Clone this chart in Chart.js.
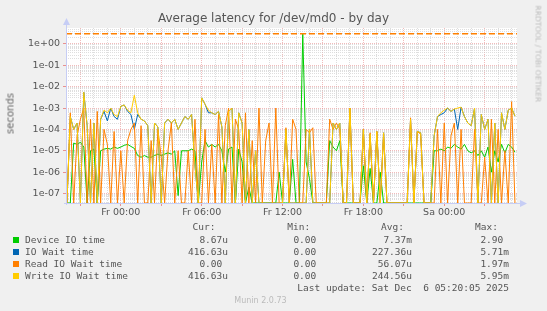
<!DOCTYPE html>
<html>
<head>
<meta charset="utf-8">
<script src="https://cdn.jsdelivr.net/npm/chart.js@4.4.0/dist/chart.umd.min.js"></script>
<style>
  body { margin: 0; background: #f0f0f0; }
  #wrap { position: relative; width: 547px; height: 311px; overflow: hidden; }
  #chart { position: absolute; left: 0; top: 0; }
  .txt { position: absolute; white-space: pre; color: #555; font-family: "DejaVu Sans", sans-serif; }
  .mono { font-family: "DejaVu Sans Mono", monospace; font-size: 9.5px; line-height: 10px; color: #555; }
  .sq { position: absolute; width: 6px; height: 6px; }
</style>
</head>
<body>
<div id="wrap">
  <canvas id="chart" width="547" height="311"></canvas>
  <div class="txt" id="title" style="left:0;width:547px;text-align:center;top:11px;font-size:12px;">Average latency for /dev/md0 - by day</div>
  <div class="txt" style="left:-15px;top:108px;width:50px;text-align:center;font-size:10px;font-weight:normal;color:#666;transform:rotate(-90deg);">seconds</div>
  <div class="txt" style="left:490px;top:49px;width:96px;text-align:center;font-size:7.5px;color:#bbb;transform:rotate(90deg);">RRDTOOL / TOBI OETIKER</div>
  <div id="legend"></div>
  <div class="txt" style="left:0;width:521px;text-align:center;top:296px;font-size:8px;color:#bbb;">Munin 2.0.73</div>
</div>
<script>
// sample schedule: hours relative to Fr 00:00, one value every 15 minutes
const startHour = -4;
const stepHours = 0.25;

// x axis range and labels
const xMinHour = -4.07;
const xMaxHour = 29.4;
const xLabelHours = [0, 6, 12, 18, 24];
const xLabelTexts = ["Fr 00:00", "Fr 06:00", "Fr 12:00", "Fr 18:00", "Sa 00:00"];

// y axis (log)
const yMin = 3.6e-8;
const yMax = 5.6;
const yTickValues = [1e-7, 1e-6, 1e-5, 1e-4, 1e-3, 1e-2, 1e-1, 1];
const yTickLabels = ["1e-07", "1e-06", "1e-05", "1e-04", "1e-03", "1e-02", "1e-01", "1e+00"];

const warningLevel = 3;

// Device IO time
const deviceIO = [
  0, 0, 2.3e-5, 2e-5,
  2.5e-5, 1.5e-5, 0, 1e-5,
  1.2e-5, 0, 1e-5, 1.2e-5,
  1.3e-5, 1.2e-5, 1.5e-5, 1.3e-5,
  1.5e-5, 1.8e-5, 2e-5, 1.6e-5,
  1.3e-5, 6e-6, 5e-6, 6e-6,
  5e-6, 5e-6, 6e-6, 7e-6,
  6e-6, 7e-6, 8e-6, 7e-6,
  1e-5, 8e-8, 1e-5, 1e-5,
  1e-5, 1.2e-5, 1e-5, 0,
  3e-6, 3e-5, 1.5e-5, 2e-5,
  1.5e-5, 2e-5, 1e-5, 1e-6,
  1.2e-5, 1.5e-5, 0, 1.2e-5,
  3e-6, 0, 2e-7, 0,
  0, 0, 0, 0,
  0, 0, 0, 1e-6,
  0, 0, 0, 4e-6,
  0, 0, 2.9, 3e-6,
  5e-7, 0, 0, 0,
  0, 0, 3e-5, 1.5e-5,
  1e-5, 3e-5, 0, 0,
  0, 0, 0, 0,
  2e-6, 0, 1.5e-6, 0,
  0, 1e-6, 0, 0,
  0, 0, 0, 0,
  0, 0, 0, 0,
  0, 0, 0, 0,
  0, 1e-5, 1e-5, 1.2e-5,
  1e-5, 1.5e-5, 1.3e-5, 2e-5,
  1.5e-5, 1.2e-5, 2e-5, 1e-5,
  8e-6, 1e-5, 6e-6, 1e-5,
  5e-6, 1.5e-5, 1e-6, 1e-5,
  3e-6, 2e-5, 8e-6, 2e-5,
  1.5e-5, 8.67e-6
];

// IO Wait time
const ioWait = [
  0, 4e-4, 1e-4, 2e-4,
  0, 5.5e-3, 1.5e-4, 0,
  2e-4, 0, 3e-4, 7e-4,
  2.5e-4, 1e-3, 4e-4, 3e-4,
  1.2e-3, 1.4e-3, 7e-4, 5e-4,
  1e-4, 5e-4, 3e-4, 2.5e-4,
  1.5e-4, 0, 2e-4, 1.3e-4,
  0, 2e-4, 3e-4, 2e-4,
  3e-4, 1e-4, 2e-4, 4e-4,
  3e-4, 5e-4, 2e-6, 0,
  3e-3, 1.5e-3, 6e-4, 6e-4,
  5e-4, 7e-4, 1.3e-4, 0,
  7e-4, 1e-3, 0, 6e-4,
  2e-4, 0, 1e-4, 0,
  1e-5, 0, 0, 0,
  0, 0, 0, 0,
  0, 1e-4, 0, 0,
  0, 0, 0, 0,
  1e-4, 0, 0, 0,
  0, 0, 0, 2e-4,
  1e-4, 2e-4, 0, 0,
  1e-3, 0, 0, 0,
  1e-4, 0, 6e-5, 0,
  8e-5, 0, 7e-5, 0,
  0, 0, 0, 0,
  0, 0, 3e-4, 0,
  8e-5, 7e-5, 0, 0,
  0, 5e-5, 4e-4, 5e-4,
  6e-4, 1e-3, 7e-4, 9e-4,
  1e-4, 1.1e-3, 4e-4, 2e-4,
  1.5e-4, 1e-3, 0, 5e-4,
  1e-4, 3e-4, 0, 2e-4,
  0, 6e-4, 1e-4, 8e-4,
  1e-3, 4.17e-4
];

// Read IO Wait time
const readWait = [
  0, 6e-4, 0, 5e-5,
  3e-4, 1e-3, 0, 3e-4,
  0, 7e-4, 0, 1e-4,
  2e-5, 0, 8e-5, 0,
  1e-5, 0, 3e-5, 1e-4,
  2e-4, 0, 1.5e-4, 0,
  0, 3e-5, 0, 1e-4,
  5e-6, 0, 1e-5, 2e-4,
  0, 1e-5, 0, 0,
  1e-5, 0, 3e-4, 0,
  0, 1e-4, 0, 2e-5,
  0, 5e-4, 0, 1.5e-4,
  1e-3, 0, 3e-4, 1e-4,
  0, 6e-4, 0, 3e-5,
  0, 1e-3, 0, 3e-5,
  2e-4, 0, 1e-3, 0,
  0, 1.2e-4, 0, 3e-4,
  1e-4, 0, 0, 1e-4,
  7e-5, 1.2e-4, 0, 0,
  0, 0, 3e-4, 1e-4,
  2e-4, 1e-4, 0, 0,
  1e-3, 0, 0, 0,
  1e-4, 0, 7e-5, 0,
  8e-5, 0, 6e-5, 0,
  0, 0, 0, 0,
  0, 0, 3.5e-4, 0,
  8e-5, 6e-5, 0, 0,
  0, 0, 1e-4, 0,
  2e-4, 0, 5e-5, 2e-4,
  0, 1e-4, 0, 0,
  0, 1e-4, 0, 0,
  5e-6, 0, 3e-4, 0,
  1e-4, 0, 1e-5, 0,
  2e-3, 0
];

// Write IO Wait time
const writeWait = [
  0, 4e-4, 1e-4, 2e-4,
  0, 5.5e-3, 1.5e-4, 0,
  2e-4, 0, 3e-4, 8e-4,
  6e-4, 1e-3, 5e-4, 4e-4,
  1.2e-3, 1.4e-3, 8e-4, 6e-4,
  4e-3, 6e-4, 3e-4, 2.5e-4,
  1.5e-4, 0, 2e-4, 1.3e-4,
  0, 2e-4, 3e-4, 2e-4,
  3e-4, 1e-4, 2e-4, 4e-4,
  3e-4, 5e-4, 2e-6, 0,
  3e-3, 1.5e-3, 8e-4, 6e-4,
  5e-4, 7e-4, 1.3e-4, 0,
  7e-4, 1e-3, 0, 6e-4,
  2e-4, 0, 1e-4, 0,
  1e-5, 0, 0, 0,
  0, 0, 0, 0,
  0, 1e-4, 0, 0,
  0, 0, 0, 0,
  1e-4, 0, 0, 0,
  0, 0, 0, 2e-4,
  1e-4, 2e-4, 0, 0,
  1e-3, 0, 0, 0,
  1e-4, 0, 6e-5, 0,
  8e-5, 0, 7e-5, 0,
  0, 0, 0, 0,
  0, 0, 3e-4, 0,
  8e-5, 7e-5, 0, 0,
  0, 5e-5, 4e-4, 6e-4,
  8e-4, 1e-3, 7e-4, 9e-4,
  1e-3, 1.1e-3, 4e-4, 2e-4,
  1.5e-4, 1e-3, 0, 5e-4,
  1e-4, 3e-4, 0, 2e-4,
  0, 6e-4, 1e-4, 8e-4,
  1e-3, 4.17e-4
];

// legend table
const seriesNames = ["Device IO time", "IO Wait time", "Read IO Wait time", "Write IO Wait time"];
const seriesColors = ["#00cc00", "#0066b3", "#ff8000", "#ffcc00"];
const curTexts = ["8.67u", "416.63u", "0.00 ", "416.63u"];
const minTexts = ["0.00 ", "0.00 ", "0.00 ", "0.00 "];
const avgTexts = ["7.37m", "227.36u", "56.07u", "244.56u"];
const maxTexts = ["2.90 ", "5.71m", "1.97m", "5.95m"];
const lastUpdate = "Last update: Sat Dec  6 05:20:05 2025";

// zero cannot sit on a log axis: like rrdtool, draw it on the axis floor
const toPoints = (vals) => vals.map((v, i) => ({ x: startHour + i * stepHours, y: v > 0 ? v : yMin }));

const series = [deviceIO, ioWait, readWait, writeWait];
const datasets = series.map((vals, i) => ({
  label: seriesNames[i],
  data: toPoints(vals),
  borderColor: seriesColors[i],
  borderWidth: 1,
  pointRadius: 0,
  tension: 0,
  clip: 1,
  order: 4 - i + 1
}));
datasets.push({
  label: "warning",
  data: [{ x: xMinHour, y: warningLevel }, { x: xMaxHour, y: warningLevel }],
  borderColor: "#ff8000",
  borderWidth: 1.5,
  borderDash: [6, 3],
  pointRadius: 0,
  order: 0
});

const minorGrid = "rgba(200,200,200,0.6)";
const majorGrid = "rgba(235,150,150,0.65)";
const axisColor = "#c6cdf5";

const axisPlugin = {
  id: "axisArrows",
  afterDraw(chart) {
    const { ctx, chartArea: a } = chart;
    ctx.save();
    ctx.strokeStyle = axisColor;
    ctx.fillStyle = axisColor;
    ctx.lineWidth = 1;
    ctx.beginPath();
    ctx.moveTo(a.left + 0.5, a.bottom + 2);
    ctx.lineTo(a.left + 0.5, a.top - 4);
    ctx.moveTo(a.left - 2, a.bottom + 0.5);
    ctx.lineTo(a.right + 4, a.bottom + 0.5);
    ctx.stroke();
    ctx.beginPath();
    ctx.moveTo(a.left - 3, a.top - 3);
    ctx.lineTo(a.left + 4, a.top - 3);
    ctx.lineTo(a.left + 0.5, a.top - 10);
    ctx.closePath();
    ctx.fill();
    ctx.beginPath();
    ctx.moveTo(a.right + 3, a.bottom - 3);
    ctx.lineTo(a.right + 3, a.bottom + 4);
    ctx.lineTo(a.right + 10, a.bottom + 0.5);
    ctx.closePath();
    ctx.fill();
    ctx.restore();
  }
};

const bgPlugin = {
  id: "canvasBg",
  beforeDraw(chart) {
    const { ctx, chartArea: a } = chart;
    ctx.save();
    ctx.fillStyle = "#f0f0f0";
    ctx.fillRect(0, 0, chart.width, chart.height);
    ctx.fillStyle = "#ffffff";
    ctx.fillRect(a.left, a.top, a.right - a.left, a.bottom - a.top);
    ctx.restore();
  }
};

new Chart(document.getElementById("chart"), {
  type: "line",
  data: { datasets },
  plugins: [bgPlugin, axisPlugin],
  options: {
    responsive: false,
    animation: false,
    devicePixelRatio: 1,
    layout: { padding: { top: 28, right: 30, left: 0, bottom: 0 } },
    plugins: { legend: { display: false }, tooltip: { enabled: false } },
    scales: {
      x: {
        type: "linear",
        min: xMinHour,
        max: xMaxHour,
        afterBuildTicks(scale) {
          const ticks = [];
          for (let h = -4; h <= 29; h++) ticks.push({ value: h, major: ((h % 3) + 3) % 3 === 0 });
          scale.ticks = ticks;
        },
        afterFit(scale) { scale.height = 108; },
        ticks: {
          autoSkip: false,
          maxRotation: 0,
          padding: 1,
          color: "#555",
          font: { family: "DejaVu Sans", size: 9.5 },
          callback(value) {
            const k = xLabelHours.indexOf(value);
            return k >= 0 ? xLabelTexts[k] : "";
          }
        },
        grid: {
          color: (c) => (c.tick && c.tick.major ? majorGrid : minorGrid),
          lineWidth: 1,
          tickLength: 3,
          tickColor: (c) => (c.tick && c.tick.major ? "rgba(230,120,120,0.8)" : "rgba(0,0,0,0)")
        },
        border: { display: false, dash: [1, 1] }
      },
      y: {
        type: "logarithmic",
        min: yMin,
        max: yMax,
        afterBuildTicks(scale) {
          const ticks = [];
          for (let e = -8; e <= 0; e++) {
            for (let m = 1; m <= 9; m++) {
              const v = m * Math.pow(10, e);
              if (v >= yMin && v <= yMax) ticks.push({ value: v, major: m === 1 });
            }
          }
          scale.ticks = ticks;
        },
        afterFit(scale) { scale.width = 66; },
        ticks: {
          autoSkip: false,
          padding: 3,
          color: "#555",
          font: { family: "DejaVu Sans", size: 9.5 },
          callback(value) {
            const k = yTickValues.findIndex((t) => Math.abs(t - value) / t < 1e-6);
            return k >= 0 ? yTickLabels[k] : "";
          }
        },
        grid: {
          color: (c) => (c.tick && c.tick.major ? majorGrid : minorGrid),
          lineWidth: 1,
          tickLength: 3,
          tickColor: (c) => (c.tick && c.tick.major ? "rgba(230,120,120,0.8)" : "rgba(0,0,0,0)")
        },
        border: { display: false, dash: [1, 1] }
      }
    }
  }
});

// legend table (munin style)
const legend = document.getElementById("legend");
const charW = 5.72;
function put(text, x, y, align) {
  const d = document.createElement("div");
  d.className = "txt mono";
  d.textContent = text;
  d.style.top = (y - 5) + "px";
  if (align === "right") d.style.left = (x - text.length * charW) + "px";
  else d.style.left = x + "px";
  legend.appendChild(d);
}
put("Cur:", 192.5, 227);
put("Min:", 287.3, 227);
put("Avg:", 381, 227);
put("Max:", 475, 227);
const rowY = [239.7, 251.7, 263.7, 275.7];
seriesNames.forEach((name, i) => {
  const sq = document.createElement("div");
  sq.className = "sq";
  sq.style.left = "13px";
  sq.style.top = (rowY[i] - 3) + "px";
  sq.style.background = seriesColors[i];
  legend.appendChild(sq);
  put(name, 25, rowY[i]);
  put(curTexts[i], 228, rowY[i], "right");
  put(minTexts[i], 322, rowY[i], "right");
  put(avgTexts[i], 412, rowY[i], "right");
  put(maxTexts[i], 509, rowY[i], "right");
});
put(lastUpdate, 509, 287.7, "right");
</script>
</body>
</html>
